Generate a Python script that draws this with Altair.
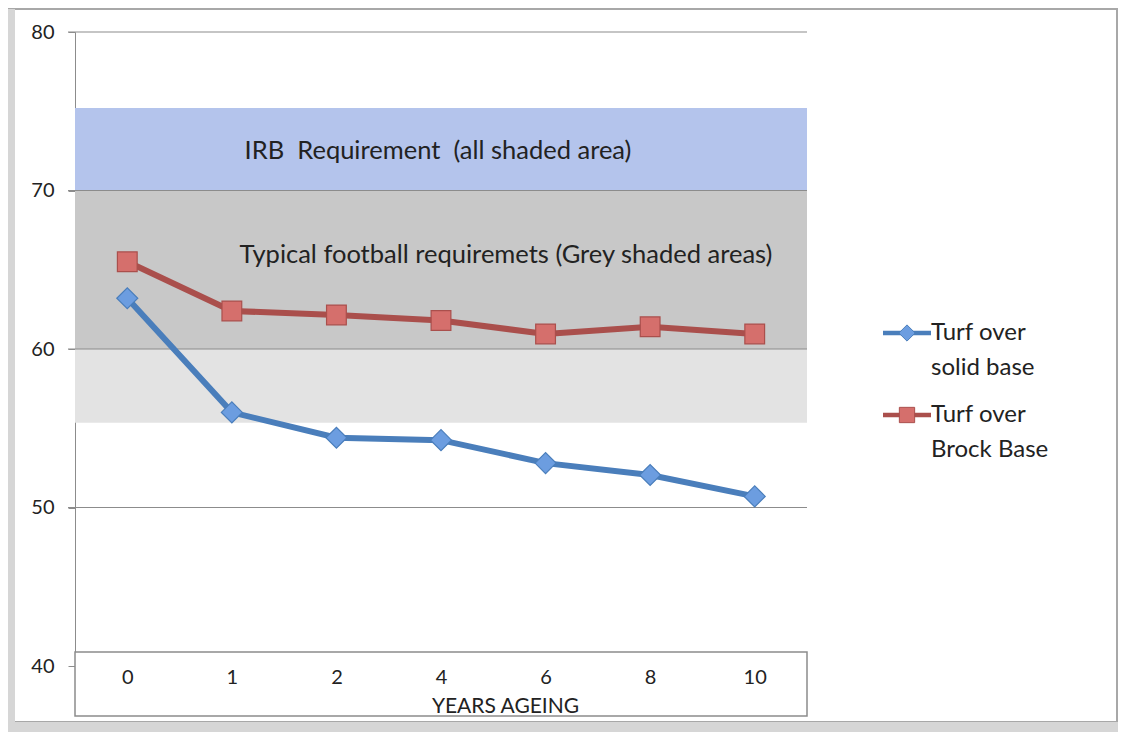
import altair as alt
import pandas as pd

# ---- data ----
years = ["0", "1", "2", "4", "6", "8", "10"]
solid_base = [63.2, 56.0, 54.4, 54.25, 52.8, 52.05, 50.7]
brock_base = [65.5, 62.4, 62.15, 61.8, 60.95, 61.4, 60.95]
series_names = ["Turf over solid base", "Turf over Brock Base"]
legend_labels = ["Turf over\nsolid base", "Turf over\nBrock Base"]
line_colors = ["#4a7ebb", "#aa4f4c"]
marker_fills = ["#6c9de0", "#d56f6c"]
marker_shapes = ["diamond", "square"]
marker_sizes = [440, 390]

band_lo = [70, 60, 55.35]
band_hi = [75.2, 70, 60]
band_colors = ["#b4c4ec", "#c8c8c8", "#e3e3e3"]
grid_values = [50, 60, 70, 80]
y_ticks = [40, 50, 60, 70, 80]
annotations = ["IRB\u00a0 Requirement\u00a0 (all shaded area)",
               "Typical football requiremets (Grey shaded areas)"]
annotation_y = [72.5, 65.9]
x_title = "YEARS AGEING"

FONT = "Lato"
W, H = 732, 634

yscale = alt.Scale(domain=[40, 80], nice=False, zero=False)
yaxis = alt.Axis(values=y_ticks, grid=False, tickSize=7, labelPadding=14,
                 labelFontSize=20, labelFont=FONT, labelColor="#222",
                 domainColor="#8c8c8c", tickColor="#8c8c8c", title=None)
xaxis = alt.Axis(labelAngle=0, domain=False, ticks=False, tickSize=0,
                 labelPadding=1, labelFontSize=20, labelFont=FONT,
                 labelColor="#222", title=x_title, titleFont=FONT,
                 titleFontSize=21, titleFontWeight="normal", titleColor="#222",
                 titlePadding=8, titleX=430, titleAlign="center", zindex=2)
xenc = alt.X("year:O", sort=years, axis=xaxis)

one = pd.DataFrame({"k": [0]})

bands = pd.DataFrame({"lo": band_lo, "hi": band_hi, "c": band_colors})
band_layer = alt.Chart(bands).mark_rect().encode(
    x=alt.value(0), x2=alt.value(W),
    y=alt.Y("lo:Q", scale=yscale, axis=yaxis), y2="hi:Q",
    color=alt.Color("c:N", scale=None),
)

grid = pd.DataFrame({"g": grid_values})
grid_layer = alt.Chart(grid).mark_rule(color="#8c8c8c", strokeWidth=1.2).encode(
    x=alt.value(-7), x2=alt.value(W),
    y=alt.Y("g:Q", scale=yscale, axis=yaxis),
)

box_layer = alt.Chart(one).mark_rect(fill="white", stroke="#8c8c8c", strokeWidth=1.5).encode(
    x=alt.value(0), x2=alt.value(W), y=alt.value(620), y2=alt.value(684)
)

ann_layers = []
ann_x = [363, 431]
for txt, yv, xv in zip(annotations, annotation_y, ann_x):
    ann_layers.append(
        alt.Chart(one).mark_text(fontSize=25.5, font=FONT, color="#222",
                                 align="center", baseline="middle", text=txt).encode(
            x=alt.value(xv),
            y=alt.YDatum(yv, type="quantitative", scale=yscale, axis=yaxis),
        )
    )

series_layers = []
legend_layers = []
for i, (name, vals) in enumerate(zip(series_names, [solid_base, brock_base])):
    df = pd.DataFrame({"year": years, "value": vals, "series": name})
    base = alt.Chart(df).encode(
        x=xenc, y=alt.Y("value:Q", scale=yscale, axis=yaxis)
    )
    series_layers.append(base.mark_line(color=line_colors[i], strokeWidth=6))
    series_layers.append(base.mark_point(shape=marker_shapes[i], filled=True,
                                         size=marker_sizes[i], fill=marker_fills[i],
                                         stroke=line_colors[i], strokeWidth=1.2,
                                         opacity=1))
    y0 = 301 + 82 * i
    legend_layers.append(alt.Chart(one).mark_rule(color=line_colors[i], strokeWidth=4.5).encode(
        x=alt.value(808), x2=alt.value(856), y=alt.value(y0)))
    legend_layers.append(alt.Chart(one).mark_point(shape=marker_shapes[i], filled=True,
                                                   size=marker_sizes[i] * 0.6, fill=marker_fills[i],
                                                   stroke=line_colors[i], strokeWidth=1, opacity=1).encode(
        x=alt.value(832), y=alt.value(y0)))
    legend_layers.append(alt.Chart(one).mark_text(align="left", baseline="middle", fontSize=24,
                                                  font=FONT, color="#222", lineBreak="\n",
                                                  lineHeight=35, text=legend_labels[i]).encode(
        x=alt.value(856), y=alt.value(y0)))

frame_layers = [
    alt.Chart(one).mark_rect(fill="none", stroke="#a8a8a8", strokeWidth=2).encode(
        x=alt.value(-66), x2=alt.value(1042), y=alt.value(-23), y2=alt.value(690)),
    alt.Chart(one).mark_rect(fill="#d6d6d6").encode(
        x=alt.value(-67), x2=alt.value(-60), y=alt.value(-23), y2=alt.value(700)),
    alt.Chart(one).mark_rect(fill="#d6d6d6").encode(
        x=alt.value(-67), x2=alt.value(1043), y=alt.value(690), y2=alt.value(700)),
]

chart = alt.layer(
    *frame_layers, band_layer, grid_layer, box_layer, *ann_layers,
    *series_layers, *legend_layers
).properties(
    width=W, height=H,
    autosize=alt.AutoSizeParams(type="none"),
    padding={"left": 67, "top": 24, "right": 312, "bottom": 66},
    background="white",
).configure_view(stroke=None)

chart.save("out.html", embed_options={"renderer": "svg", "actions": False})
